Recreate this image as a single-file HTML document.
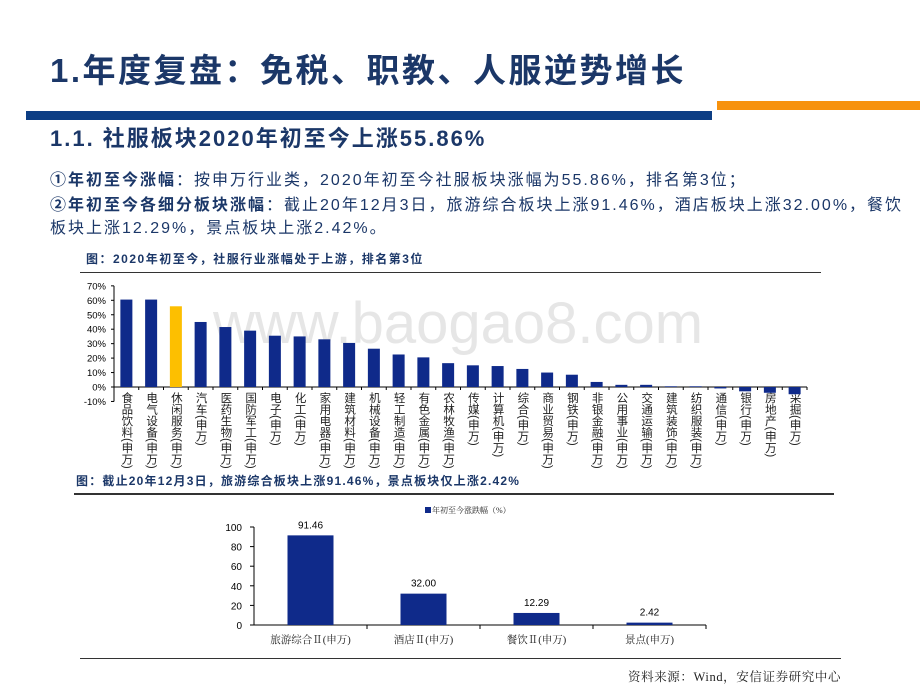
<!DOCTYPE html>
<html><head><meta charset="utf-8">
<style>
body{margin:0;width:920px;height:690px;background:#fff;overflow:hidden;position:relative;font-family:"Liberation Sans","Noto Sans CJK SC",sans-serif}
.t{position:absolute;white-space:nowrap}
.vl{position:absolute;writing-mode:vertical-rl;font-size:11.5px;line-height:12px;color:#222;white-space:nowrap;letter-spacing:0px}
</style></head><body>
<div class="t" style="left:213px;top:290px;font-size:58px;color:rgba(200,200,200,0.45)">www.baogao8.com</div>
<div class="t" style="left:50px;top:44px;font-size:33px;font-weight:bold;color:#1b3768;letter-spacing:2.5px">1.年度复盘：免税、职教、人服逆势增长</div>
<div style="position:absolute;left:26px;top:111px;width:686px;height:9px;background:#0d3e84"></div>
<div style="position:absolute;left:717px;top:101px;width:203px;height:9px;background:#f7920e"></div>
<div class="t" style="left:50px;top:121px;font-size:22px;font-weight:bold;color:#1b3768;letter-spacing:2px">1.1. 社服板块2020年初至今上涨55.86%</div>
<div class="t" style="left:50px;top:166px;font-size:16px;color:#1b3768;letter-spacing:2px"><b>①年初至今涨幅</b>：按申万行业类，2020年初至今社服板块涨幅为55.86%，排名第3位；</div>
<div class="t" style="left:50px;top:194px;font-size:16px;color:#1b3768;line-height:23px;letter-spacing:2px"><b>②年初至今各细分板块涨幅</b>：截止20年12月3日，旅游综合板块上涨91.46%，酒店板块上涨32.00%，餐饮<br>板块上涨12.29%，景点板块上涨2.42%。</div>
<div class="t" style="left:86px;top:250px;font-size:12px;font-weight:bold;color:#1b3768;letter-spacing:1.5px">图：2020年初至今，社服行业涨幅处于上游，排名第3位</div>
<div style="position:absolute;left:80px;top:272px;width:741px;height:1px;background:#333"></div>
<div class="t" style="left:76px;top:472px;font-size:12px;font-weight:bold;color:#1b3768;letter-spacing:1.2px">图：截止20年12月3日，旅游综合板块上涨91.46%，景点板块仅上涨2.42%</div>
<div style="position:absolute;left:74px;top:493px;width:760px;height:2px;background:#333"></div>
<div style="position:absolute;left:80px;top:658px;width:761px;height:1px;background:#333"></div>
<div class="t" style="left:628px;top:667px;font-size:12.5px;font-family:'Liberation Serif','Noto Serif CJK SC',serif;color:#222;letter-spacing:0.6px">资料来源：Wind，安信证券研究中心</div>
<div id="lbls"></div>
<svg id="c1" style="position:absolute;left:0;top:0" width="920" height="690"></svg>
<script>
const cats1=["食品饮料","电气设备","休闲服务","汽车","医药生物","国防军工","电子","化工","家用电器","建筑材料","机械设备","轻工制造","有色金属","农林牧渔","传媒","计算机","综合","商业贸易","钢铁","非银金融","公用事业","交通运输","建筑装饰","纺织服装","通信","银行","房地产","采掘"];
const vals1=[60.5,60.5,55.86,45,41.5,39,35.5,35,33,30.5,26.5,22.5,20.5,16.5,15,14.5,12.5,10,8.5,3.5,1.5,1.5,0.5,0.5,-1,-3,-4,-5];
const ticks1=[70,60,50,40,30,20,10,0,-10];
const cats2=["旅游综合Ⅱ(申万)","酒店Ⅱ(申万)","餐饮Ⅱ(申万)","景点(申万)"];
const vals2=[91.46,32.00,12.29,2.42];
const ticks2=[100,80,60,40,20,0];
const NS="http://www.w3.org/2000/svg";
const svg=document.getElementById('c1');
const lbls=document.getElementById('lbls');
function mk(t,a,txt){const e=document.createElementNS(NS,t);for(const k in a)e.setAttribute(k,a[k]);if(txt!=null)e.textContent=txt;svg.appendChild(e);return e;}
const y1=v=>387-v*1.445;
const x0=114,step=24.75;
const x1=i=>x0+step*(i+0.5);
mk('line',{x1:x0,y1:y1(70),x2:x0,y2:y1(-10),stroke:'#000','stroke-width':1});
ticks1.forEach(t=>{
 const tk=mk('line',{x1:x0-3,y1:y1(t),x2:x0,y2:y1(t),stroke:'#000'});
 
 
 const l=mk('text',{x:x0-8,y:y1(t)+3.5,'font-size':9.5,'text-anchor':'end',fill:'#000'},t+'%');
 
 
});
mk('line',{x1:x0,y1:y1(0),x2:x0+step*cats1.length,y2:y1(0),stroke:'#000'});
cats1.forEach((c,i)=>{
 const v=vals1[i],cx=x1(i);
 const r=mk('rect',{x:cx-6,y:Math.min(y1(v),y1(0)),width:12,height:Math.abs(y1(v)-y1(0)),fill:i==2?'#fdbf00':'#0f2a8a'});
 
 
 mk('line',{x1:x0+step*(i+1),y1:y1(0),x2:x0+step*(i+1),y2:y1(0)+3,stroke:'#000'});
 const d=document.createElement('div');
 d.className='vl';
 
 
 d.style.left=(cx-6)+'px';d.style.top='392px';
 d.textContent=c+'(申万)';
 lbls.appendChild(d);
});
const ax2=254,st2=113;
const y2=v=>625-v*0.98;
mk('line',{x1:ax2,y1:y2(100),x2:ax2,y2:y2(0),stroke:'#000'});
mk('line',{x1:ax2,y1:y2(0),x2:ax2+st2*4,y2:y2(0),stroke:'#000'});
ticks2.forEach(t=>{
 mk('line',{x1:ax2-4,y1:y2(t),x2:ax2,y2:y2(t),stroke:'#000'});
 const l=mk('text',{x:ax2-12,y:y2(t)+4,'font-size':10,'text-anchor':'end',fill:'#000'},t);
 
 
});
cats2.forEach((c,i)=>{
 const cx=ax2+st2*(i+0.5),v=vals2[i];
 const r=mk('rect',{x:cx-23,y:y2(v),width:46,height:y2(0)-y2(v),fill:'#0f2a8a'});
 
 
 const vl=mk('text',{x:cx,y:y2(v)-7,'font-size':10,'text-anchor':'middle',fill:'#000'},v.toFixed(2));
 
 
 const xl=mk('text',{x:cx,y:643,'font-size':10.5,'text-anchor':'middle',fill:'#222','font-family':'Liberation Serif, Noto Serif CJK SC, serif'},c);
 
 
 mk('line',{x1:ax2+st2*(i+1),y1:y2(0),x2:ax2+st2*(i+1),y2:y2(0)+4,stroke:'#000'});
});
const lg=mk('rect',{x:425,y:507,width:6,height:6,fill:'#0f2a8a'});


const lt=mk('text',{x:432,y:513,'font-size':8,fill:'#222','font-family':'Liberation Serif, Noto Serif CJK SC, serif'},'年初至今涨跌幅（%）');


</script>
</body></html>
